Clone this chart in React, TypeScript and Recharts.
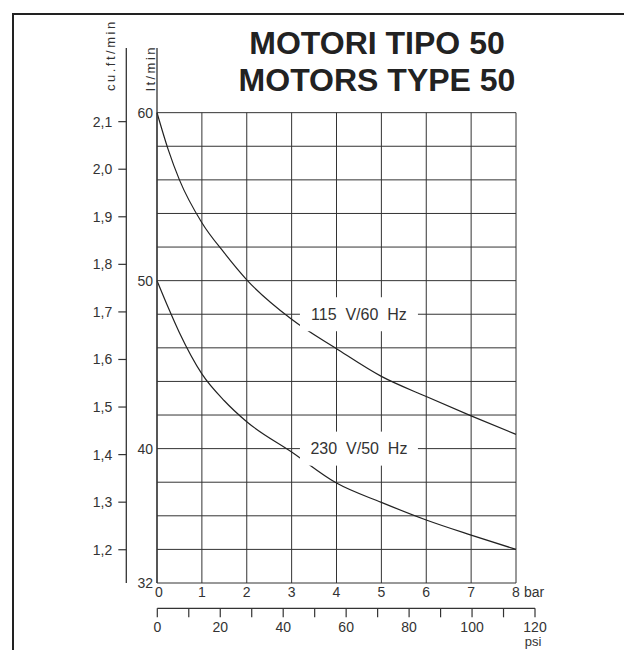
import React from 'react'
import { LineChart, Line, XAxis, YAxis, ReferenceLine, ReferenceDot } from 'recharts'

// pressure (bar) and delivery (lt/min)
const barTicks = [0, 1, 2, 3, 4, 5, 6, 7, 8]
const ltGrid = [32, 34, 36, 38, 40, 42, 44, 46, 48, 50, 52, 54, 56, 58, 60]
const ltTicks = [32, 40, 50, 60]
const cfTicks = [1.2, 1.3, 1.4, 1.5, 1.6, 1.7, 1.8, 1.9, 2.0, 2.1]
const psiTicks = [0, 10, 20, 30, 40, 50, 60, 70, 80, 90, 100, 110, 120]

const barPoints = [0, 0.25, 0.5, 1, 1.5, 2, 3, 4, 5, 6, 7, 8]
const flow115 = [60, 57.8, 56.0, 53.45, 51.65, 50.05, 47.7, 45.95, 44.3, 43.1, 41.95, 40.85]
const flow230 = [50, 48.4, 46.9, 44.45, 42.85, 41.6, 39.8, 37.95, 36.8, 35.75, 34.85, 34.0]

const curveTags = [
  { text: '115  V/60  Hz', bar: 4.5, lt: 48 },
  { text: '230  V/50  Hz', bar: 4.5, lt: 40 },
]

const LT_PER_CFM = 28.3168
const LT_MIN = 32
const LT_TOP = 63.85 // axis lines run above the grid

// axis ids: "a" sits next to the plot, "b" outside it
const LT = 'a'
const CF = 'b'

const data = barPoints.map((b, i) => ({ bar: b, v115: flow115[i], v230: flow230[i] }))
const psiData = psiTicks.map((p) => ({ psi: p }))

const FONT = "'Liberation Sans', Arial, sans-serif"
const INK = '#333'

function BarTick({ x, y, payload }: any) {
  const v = payload.value
  return (
    <g fontFamily={FONT} fontSize={14} fill={INK}>
      <text x={v === 0 ? x + 2 : x} y={y + 14.3} textAnchor="middle">{v}</text>
      {v === 8 && <text x={x + 8} y={y + 14.3}>bar</text>}
    </g>
  )
}

function PsiTick({ x, y, payload }: any) {
  const v = payload.value
  if (v % 20 !== 0) return null
  return (
    <g fontFamily={FONT} fill={INK}>
      <text x={x} y={y + 14.4} textAnchor="middle" fontSize={14}>{v}</text>
      {v === 120 && <text x={x - 2} y={y + 28.7} textAnchor="middle" fontSize={13}>psi</text>}
    </g>
  )
}

function AxisTitle({ viewBox, text, inset }: any) {
  const bx = viewBox.x + viewBox.width - inset
  const by = viewBox.y + 43
  return (
    <text
      x={bx}
      y={by}
      transform={`rotate(-90 ${bx} ${by})`}
      fontFamily={FONT}
      fontSize={13}
      letterSpacing={2.5}
      fill={INK}
    >
      {text}
    </text>
  )
}

function CurveTag({ viewBox, text }: any) {
  const cx = viewBox.x + viewBox.width / 2
  const cy = viewBox.y + viewBox.height / 2
  return (
    <g>
      <rect x={cx - 59} y={cy - 17} width={118} height={34} fill="#fff" />
      <text
        x={cx}
        y={cy + 5.8}
        textAnchor="middle"
        fontFamily={FONT}
        fontSize={16}
        fill={INK}
        style={{ whiteSpace: 'pre' }}
      >
        {text}
      </text>
    </g>
  )
}

export default function App() {
  return (
    <div style={{ position: 'absolute', left: 0, top: 0, width: 624, height: 650, background: '#fff', overflow: 'hidden' }}>
      <div
        style={{
          position: 'absolute',
          left: 12,
          top: 13,
          right: 0,
          bottom: 0,
          borderTop: '2.5px solid #222',
          borderLeft: '2.5px solid #222',
        }}
      />
      <div
        style={{
          position: 'absolute',
          left: 177,
          width: 400,
          top: 25.4,
          textAlign: 'center',
          fontFamily: FONT,
          fontWeight: 'bold',
          fontSize: 32,
          lineHeight: '37px',
          color: '#222',
        }}
      >
        MOTORI TIPO 50
        <br />
        MOTORS TYPE 50
      </div>

      {/* grid, axes and curves */}
      <div style={{ position: 'absolute', left: 0, top: 0 }}>
        <LineChart width={624} height={650} data={data} margin={{ top: 48, right: 108, bottom: 37, left: 86.3 }}>
          <XAxis
            type="number"
            dataKey="bar"
            domain={[0, 8]}
            ticks={barTicks}
            axisLine={false}
            tickLine={false}
            tickSize={0}
            tickMargin={0}
            height={30}
            tick={<BarTick />}
            interval={0}
          />
          <YAxis
            yAxisId={LT}
            type="number"
            domain={[LT_MIN, LT_TOP]}
            allowDataOverflow
            ticks={ltTicks}
            interval={0}
            width={30.7}
            axisLine={{ stroke: INK, strokeWidth: 1.3 }}
            tickLine={false}
            tickSize={0}
            tickMargin={4}
            tick={{ fontSize: 14, fill: INK, fontFamily: FONT }}
            label={<AxisTitle text="lt/min" inset={2} />}
          />
          <YAxis
            yAxisId={CF}
            type="number"
            domain={[LT_MIN / LT_PER_CFM, LT_TOP / LT_PER_CFM]}
            allowDataOverflow
            ticks={cfTicks}
            interval={0}
            width={40}
            axisLine={{ stroke: INK, strokeWidth: 1.3 }}
            tickLine={{ stroke: INK, strokeWidth: 1.2 }}
            tickSize={8}
            tickMargin={6}
            tickFormatter={(v: number) => v.toFixed(1).replace('.', ',')}
            tick={{ fontSize: 14, fill: INK, fontFamily: FONT }}
            label={<AxisTitle text="cu.ft/min" inset={11.3} />}
          />

          {ltGrid.map((v) => (
            <ReferenceLine key={`h${v}`} yAxisId={LT} y={v} stroke={INK} strokeWidth={1} />
          ))}
          {barTicks.map((b) => (
            <ReferenceLine
              key={`v${b}`}
              yAxisId={LT}
              segment={[{ x: b, y: LT_MIN }, { x: b, y: 60 }]}
              stroke={INK}
              strokeWidth={1}
            />
          ))}

          <Line yAxisId={LT} type="monotone" dataKey="v115" stroke="#222" strokeWidth={1.2} dot={false} isAnimationActive={false} />
          <Line yAxisId={LT} type="monotone" dataKey="v230" stroke="#222" strokeWidth={1.2} dot={false} isAnimationActive={false} />
        </LineChart>
      </div>

      {/* curve names, on their own layer so the white box masks grid and curves */}
      <div style={{ position: 'absolute', left: 0, top: 0, pointerEvents: 'none' }}>
        <LineChart width={624} height={650} data={data} margin={{ top: 48, right: 108, bottom: 67, left: 157 }}>
          <XAxis type="number" dataKey="bar" domain={[0, 8]} hide />
          <YAxis yAxisId={LT} type="number" domain={[LT_MIN, LT_TOP]} allowDataOverflow hide />
          {curveTags.map((t) => (
            <ReferenceDot
              key={t.text}
              yAxisId={LT}
              x={t.bar}
              y={t.lt}
              r={1}
              fill="none"
              stroke="none"
              label={<CurveTag text={t.text} />}
            />
          ))}
        </LineChart>
      </div>

      {/* psi scale under the bar scale */}
      <div style={{ position: 'absolute', left: 0, top: 0, pointerEvents: 'none' }}>
        <LineChart width={624} height={650} data={psiData} margin={{ top: 590, right: 89, bottom: 0, left: 157.3 }}>
          <XAxis
            type="number"
            dataKey="psi"
            domain={[0, 120]}
            ticks={psiTicks}
            interval={0}
            height={41.7}
            axisLine={{ stroke: INK, strokeWidth: 1.3 }}
            tickLine={{ stroke: INK, strokeWidth: 1.2 }}
            tickSize={9}
            tickMargin={0}
            tick={<PsiTick />}
          />
          <YAxis hide width={0} />
        </LineChart>
      </div>
    </div>
  )
}
